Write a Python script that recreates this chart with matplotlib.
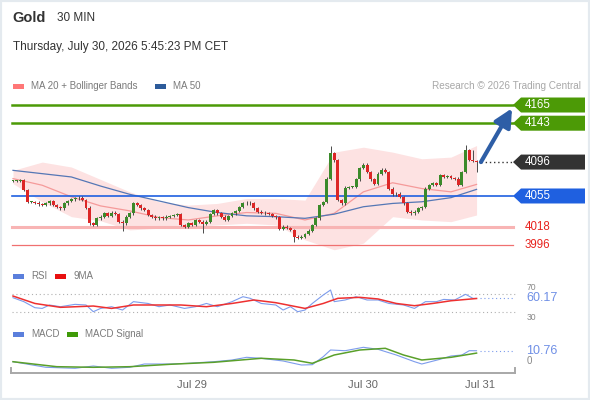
import matplotlib
matplotlib.use("Agg")
import matplotlib.pyplot as plt
from matplotlib.patches import Polygon, Rectangle
from matplotlib.transforms import IdentityTransform

plt.rcParams['font.family'] = ['Liberation Sans', 'DejaVu Sans']

W, H = 590, 400

# --- price data (30 min candles) ---
closes = [4073, 4073, 4074, 4062, 4048, 4048, 4047, 4045, 4044, 4046,
          4049, 4044, 4042, 4040, 4046, 4049, 4051, 4052, 4053, 4050,
          4041, 4022, 4020, 4028, 4030, 4034, 4031, 4035, 4033, 4024,
          4022, 4030, 4034, 4046, 4044, 4040, 4038, 4032, 4030, 4028,
          4029, 4028, 4030, 4031, 4032, 4033, 4020, 4018, 4022, 4020,
          4026, 4024, 4021, 4024, 4033, 4038, 4034, 4030, 4026, 4031,
          4034, 4037, 4042, 4046, 4047, 4046, 4040, 4036, 4035, 4034,
          4033, 4031, 4029, 4015, 4018, 4016, 4014, 4006, 4004, 4006,
          4009, 4013, 4020, 4028, 4044, 4048, 4076, 4107, 4098, 4050,
          4046, 4065, 4066, 4066, 4075, 4089, 4093, 4084, 4075, 4070,
          4082, 4087, 4084, 4064, 4057, 4058, 4054, 4046, 4036, 4034,
          4036, 4040, 4042, 4064, 4068, 4071, 4068, 4080, 4078, 4079,
          4077, 4076, 4068, 4084, 4110, 4099, 4097, 4096]
first_open = 4073
wick_high = {87: 4116, 124: 4117, 126: 4110}
wick_low = {30: 4013, 52: 4010, 77: 3999, 127: 4084}

# moving averages / bollinger bands
ma_idx = [0, 8, 16, 24, 32, 40, 48, 56, 64, 72, 80, 88, 96, 104, 112, 120, 127]
ma20 = [4076, 4068, 4054, 4043, 4037, 4029, 4026, 4031, 4035, 4034, 4026,
        4034, 4060, 4071, 4064, 4060, 4069]
ma50 = [4086, 4082, 4078, 4067, 4057, 4049, 4041, 4035, 4031, 4030, 4028,
        4033, 4042, 4046, 4048, 4053, 4063]
bb_upper = [4086, 4096, 4090, 4075, 4060, 4048, 4044, 4046, 4052, 4052, 4050,
            4108, 4114, 4108, 4100, 4102, 4116]
bb_lower = [4070, 4048, 4030, 4025, 4014, 4016, 4018, 4020, 4022, 4020, 4002,
            3990, 3998, 4030, 4026, 4024, 4032]

# RSI panel
rsi_idx = [0, 3, 6, 8, 10, 13, 17, 20, 22, 24, 27, 30, 33, 37, 40, 43, 47, 50,
           53, 56, 60, 63, 65, 68, 72, 74, 76, 78, 80, 82, 85, 87, 88, 91, 94,
           97, 100, 103, 107, 110, 113, 116, 118, 121, 124, 126, 127]
rsi = [61.8, 52.9, 39.6, 38, 45.5, 41.8, 47, 45.6, 30.7, 38, 41.8, 34.4, 53,
       49, 41.8, 45.6, 38, 41.8, 49, 41.8, 53, 64, 60.4, 49, 45.6, 34.4, 41.8,
       30.7, 34.4, 49, 67.8, 78.9, 53, 56.7, 64, 56.7, 56.7, 49, 45.6, 38, 53,
       53, 58, 56.7, 69.3, 60.4, 60.17]
rsi_ma_idx = [0, 6, 13, 22, 27, 33, 46, 53, 60, 66, 72, 80, 85, 89, 95, 100,
              105, 110, 115, 120, 127]
rsi_ma = [65.5, 49, 40.4, 43.3, 38, 45.6, 45.6, 41.8, 49, 56.7, 50.7, 38, 49,
          60.4, 62.6, 59, 49, 44, 49, 55, 60]

# MACD panel
macd_idx = [0, 9, 17, 22, 27, 32, 36, 43, 48, 55, 60, 64, 68, 74, 79, 82, 85,
            87, 91, 96, 100, 105, 110, 112, 117, 120, 123, 125, 127]
macd = [-0.2, -5.8, -6.8, -4.5, -6.8, -5.8, -2.5, -2.5, -1.8, -0.2, 1.5, 4.2,
        3.2, 0.5, -3.5, -3.2, 4.8, 11.5, 10.8, 14.2, 12.2, 6.5, -0.2, -2.5,
        2.2, 5.5, 6.5, 10.8, 10.76]
signal_idx = [0, 12, 22, 32, 43, 55, 68, 77, 82, 88, 95, 102, 107, 112, 120,
              127]
signal = [-0.2, -5.2, -5.8, -5.2, -2.8, -0.8, 3.2, 1.5, -1.8, 6.5, 11.5, 13.2,
          6.5, 1.5, 4.2, 8.4]

resistances = [4165, 4143]
pivot = 4055
supports = [4018, 3996]
last_price = 4096
rsi_last = 60.17
macd_last = 10.76
date_ticks = [49, 96, 128]
date_labels = ['Jul 29', 'Jul 30', 'Jul 31']

# candle i sits at x pixel X0 + i*DX
X0, DX = 13, 3.65
XLIM = (-X0 / DX, (W - X0) / DX)

fig = plt.figure(figsize=(W / 100, H / 100), dpi=100)
fig.patch.set_facecolor('white')


def panel(top, bottom, ylim):
    ax = fig.add_axes([0, 1 - bottom / H, 1, (bottom - top) / H])
    ax.set_xlim(XLIM)
    ax.set_ylim(ylim)
    ax.axis('off')
    return ax


def ftext(x, y, s, **kw):
    kw.setdefault('va', 'center')
    return fig.text(x / W, 1 - y / H, s, **kw)


def legend_item(x, y, color, label):
    fig.add_artist(Rectangle((x / W, 1 - (y + 2.5) / H), 11 / W, 5 / H,
                             transform=fig.transFigure, color=color, lw=0))
    ftext(x + 18, y, label, fontsize=7, color='#7a7a7a')


# header
ftext(12, 18, 'Gold', fontsize=10.5, fontweight='bold', color='#333333')
ftext(57, 18, '30 MIN', fontsize=8.5, color='#333333')
ftext(13, 47, 'Thursday, July 30, 2026 5:45:23 PM CET', fontsize=8.5,
      color='#333333')
legend_item(13, 86, '#ff7777', 'MA 20 + Bollinger Bands')
legend_item(155, 86, '#2d5b9a', 'MA 50')
ftext(581, 86, 'Research \u00a9 2026 Trading Central', fontsize=7.2,
      color='#a8a8a8', ha='right')

# ---- price panel ----
ax = panel(95, 250, (3989.7, 4177.1))
ax.fill_between(ma_idx, bb_lower, bb_upper, color='#fde2e2', lw=0, zorder=1)
ax.plot(ma_idx, ma20, color='#f59a9a', lw=0.9, zorder=2)
ax.plot(ma_idx, ma50, color='#5577b5', lw=0.9, zorder=2)

for r in resistances:
    ax.axhline(r, xmin=12 / W, xmax=513 / W, color='#4c9a06', lw=1.8, zorder=2)
ax.axhline(pivot, xmin=12 / W, xmax=513 / W, color='#1f60e0', lw=1.2, zorder=2)
ax.axhline(supports[0], xmin=12 / W, xmax=513 / W, color='#f8b4b4', lw=2.2,
           zorder=2)
ax.axhline(supports[1], xmin=12 / W, xmax=513 / W, color='#f07070', lw=0.9,
           zorder=2)

opens = [first_open] + closes[:-1]
for i, (o, c) in enumerate(zip(opens, closes)):
    hi = wick_high.get(i, max(o, c) + 1.5)
    lo = wick_low.get(i, min(o, c) - 1.5)
    col = '#3b8a2a' if c >= o else '#dc2626'
    ax.vlines(i, lo, hi, color='#4a4a4a', lw=0.7, zorder=3)
    ax.bar(i, max(abs(c - o), 0.9), bottom=min(o, c), width=0.8, color=col,
           lw=0, zorder=4)

ax.axhline(last_price, xmin=481 / W, xmax=513 / W, color='#333333', lw=1,
           ls=(0, (1, 2)), zorder=3)
ax.annotate('', xy=(512 / W, 4161), xycoords=('axes fraction', 'data'),
            xytext=(len(closes) + 0.2, last_price), textcoords='data',
            arrowprops=dict(arrowstyle='-|>,head_width=0.45,head_length=0.9',
                            color='#2e5ea6', lw=3, mutation_scale=12,
                            shrinkA=0, shrinkB=0), zorder=6)


def tag(price, color, label):
    yd = ax.transData.transform((0, price))[1]
    pts = [(513, yd), (521, yd + 7.5), (585, yd + 7.5), (585, yd - 7.5),
           (521, yd - 7.5)]
    ax.add_patch(Polygon(pts, closed=True, transform=IdentityTransform(),
                         color=color, lw=0, clip_on=False, zorder=7))
    ax.text(525 / W, price, label, transform=ax.get_yaxis_transform(),
            color='white', fontsize=8.3, va='center', zorder=8)


tag(resistances[0], '#4c9a06', str(resistances[0]))
tag(resistances[1], '#4c9a06', str(resistances[1]))
tag(last_price, '#333333', str(last_price))
tag(pivot, '#1f60e0', str(pivot))
for s in supports:
    ax.text(525 / W, s, str(s), transform=ax.get_yaxis_transform(),
            color='#e8231e', fontsize=8.3, va='center')

# ---- RSI panel ----
legend_item(13, 276, '#5b7fdc', 'RSI')
legend_item(55, 276, '#e81010', '9MA')
rax = panel(285, 318, (16.7, 90))
for lv in (70, 30):
    rax.axhline(lv, xmin=12 / W, xmax=515 / W, color='#b0b0b0', lw=0.8,
                ls=(0, (1, 2.5)))
# small scale labels, pushed just clear of the current-value label
rax.text(527 / W, 73.5, '70', transform=rax.get_yaxis_transform(),
         fontsize=6.2, color='#888888', va='bottom', zorder=2)
rax.text(527 / W, 27, '30', transform=rax.get_yaxis_transform(),
         fontsize=6.2, color='#888888', va='top', zorder=2)
rax.plot(rsi_idx, rsi, color='#7d9cec', lw=0.8, zorder=3)
rax.plot(rsi_ma_idx, rsi_ma, color='#ee3030', lw=1.1, zorder=3)
rax.axhline(rsi_last, xmin=480 / W, xmax=515 / W, color='#7d9cec', lw=0.8,
            ls=(0, (1, 2.5)))
rax.text(526 / W, rsi_last, f'{rsi_last:.2f}', transform=rax.get_yaxis_transform(),
         fontsize=9, color='#6f8fe6', va='center', zorder=5)

# ---- MACD panel ----
legend_item(13, 334, '#5b7fdc', 'MACD')
legend_item(67, 334, '#3f9a08', 'MACD Signal')
max_ = panel(340, 372, (-10.5, 21.5))
max_.text(527 / W, 0, '0', transform=max_.get_yaxis_transform(),
          fontsize=7, color='#888888', va='center', zorder=2)
max_.plot(macd_idx, macd, color='#7d9cec', lw=0.8, zorder=3)
max_.plot(signal_idx, signal, color='#5aa02a', lw=1.1, zorder=3)
max_.axhline(macd_last, xmin=480 / W, xmax=515 / W, color='#7d9cec', lw=0.8,
             ls=(0, (1, 2.5)))
max_.text(526 / W, macd_last, f'{macd_last:.2f}',
          transform=max_.get_yaxis_transform(), fontsize=9, color='#6f8fe6',
          va='center', zorder=5)

# ---- date axis ----
dax = fig.add_axes([11 / W, 1 - 373 / H, (515 - 11) / W, 5 / H])
dax.set_xlim((11 - X0) / DX, (515 - X0) / DX)
dax.patch.set_alpha(0)
dax.spines['top'].set_visible(False)
for sp in ('left', 'right', 'bottom'):
    dax.spines[sp].set_color('#a8a8a8')
    dax.spines[sp].set_linewidth(1.4)
dax.set_yticks([])
dax.set_xticks(date_ticks, date_labels)
dax.tick_params(axis='x', length=0, pad=5, labelsize=8, labelcolor='#666666')

fig.add_artist(Rectangle((0, 0), 1, 1, transform=fig.transFigure, fill=False,
                         edgecolor='#e4eaef', lw=3))

fig.savefig('out.png', dpi=100)
